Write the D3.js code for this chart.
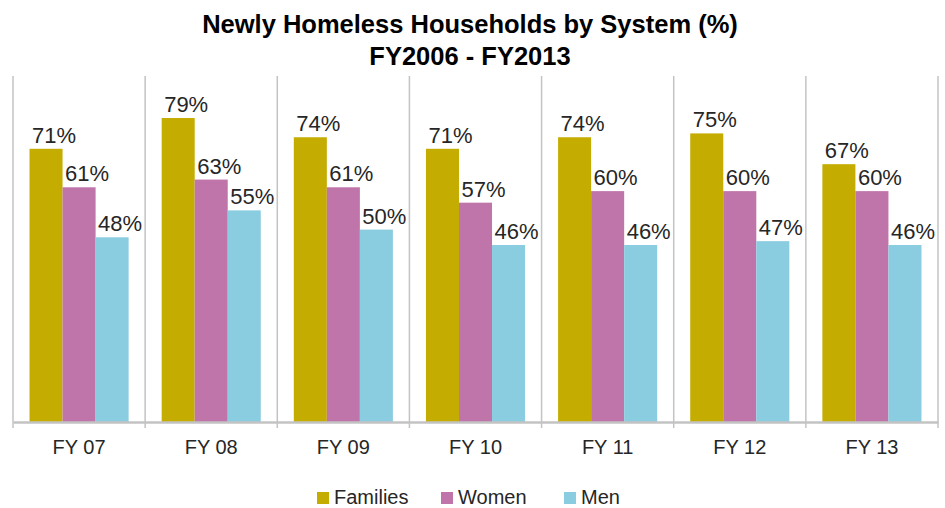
<!DOCTYPE html>
<html>
<head>
<meta charset="utf-8">
<script src="https://cdn.jsdelivr.net/npm/d3@7"></script>
<style>
  body { margin: 0; background: #fff; }
  svg { display: block; font-family: "Liberation Sans", Arial, Helvetica, sans-serif; }
</style>
</head>
<body>
<svg id="chart" width="945" height="508"></svg>
<script>
// Fiscal years shown on the category axis
const categories = ["FY 07", "FY 08", "FY 09", "FY 10", "FY 11", "FY 12", "FY 13"];
// Share of newly homeless households (%) per system
const families = [71, 79, 74, 71, 74, 75, 67];
const women    = [61, 63, 61, 57, 60, 60, 60];
const men      = [48, 55, 50, 46, 46, 47, 46];
const seriesNames = ["Families", "Women", "Men"];
const seriesColors = ["#c4ad00", "#bf75aa", "#8bcde0"];
const titleLines = ["Newly Homeless Households by System (%)", "FY2006 - FY2013"];

const series = [families, women, men];
const svg = d3.select("#chart");

const left = 13, right = 938, baseline = 422, plotTop = 76;

const x = d3.scaleBand().domain(categories).range([left, right]).paddingInner(0).paddingOuter(0);
const xs = d3.scaleBand().domain(seriesNames).range([0, x.bandwidth()]).paddingInner(0).paddingOuter(0.5);
const y = d3.scaleLinear().domain([0, 100]).range([baseline, baseline - 384.8]);

// Title
svg.append("g").selectAll("text").data(titleLines).join("text")
  .attr("x", 470).attr("y", (d, i) => 33 + i * 32)
  .attr("text-anchor", "middle")
  .attr("font-size", 25.5).attr("font-weight", "bold").attr("fill", "#000")
  .text(d => d);

// Category separators
const bounds = categories.map(c => x(c)).concat([x(categories[categories.length - 1]) + x.bandwidth()]);
svg.append("g").selectAll("line").data(bounds).join("line")
  .attr("x1", d => d).attr("x2", d => d)
  .attr("y1", plotTop).attr("y2", baseline + 6)
  .attr("stroke", "#c3c3c3").attr("stroke-width", 1.5);

// Bars
const groups = svg.append("g").selectAll("g").data(categories).join("g")
  .attr("transform", c => `translate(${x(c)},0)`);

groups.selectAll("rect")
  .data((c, i) => series.map((s, k) => ({ name: seriesNames[k], value: s[i], k })))
  .join("rect")
  .attr("x", d => xs(d.name))
  .attr("width", xs.bandwidth())
  .attr("y", d => y(d.value))
  .attr("height", d => baseline - y(d.value))
  .attr("fill", d => seriesColors[d.k]);

// Value labels
groups.selectAll("text.val")
  .data((c, i) => series.map((s, k) => ({ name: seriesNames[k], value: s[i], k })))
  .join("text").attr("class", "val")
  .attr("x", d => xs(d.name) + xs.bandwidth() / 2 + 8)
  .attr("y", d => y(d.value) - 6)
  .attr("text-anchor", "middle")
  .attr("font-size", 22).attr("fill", "#262626")
  .text(d => d.value + "%");

// Category axis
const axis = svg.append("g").attr("transform", `translate(0,${baseline})`)
  .call(d3.axisBottom(x).tickSize(0).tickPadding(18));
axis.select(".domain").attr("stroke", "#c3c3c3").attr("stroke-width", 2.5);
axis.selectAll("text").attr("font-size", 20).attr("fill", "#262626")
  .attr("font-family", "Liberation Sans, Arial, sans-serif");

// Legend
const legendX = [317, 441, 564];
const legend = svg.append("g").selectAll("g").data(seriesNames).join("g")
  .attr("transform", (d, i) => `translate(${legendX[i]},0)`);
legend.append("rect").attr("x", 0).attr("y", 492).attr("width", 12).attr("height", 12)
  .attr("fill", (d, i) => seriesColors[i]);
legend.append("text").attr("x", 17).attr("y", 504)
  .attr("font-size", 20).attr("fill", "#262626").text(d => d);
</script>
</body>
</html>
